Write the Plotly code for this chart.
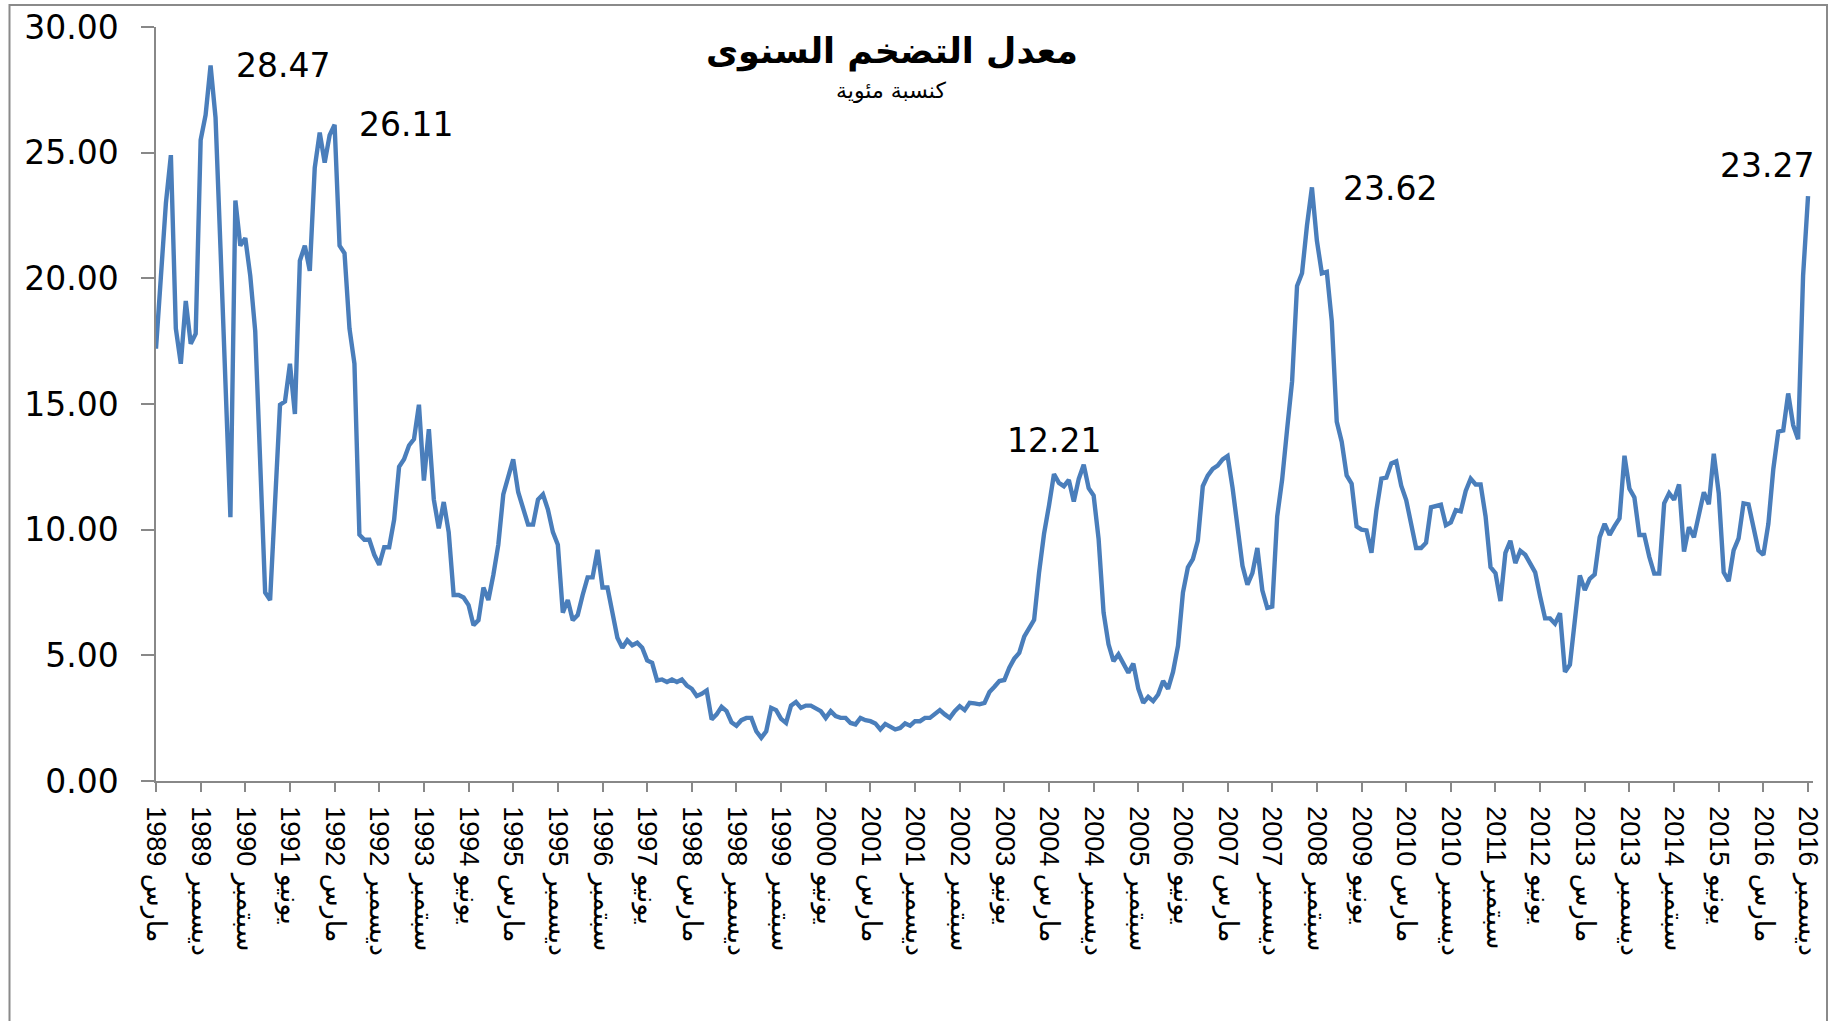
import plotly.graph_objects as go

# ---------------- data ----------------
start_year, start_month = 1989, 3

inflation = [
    # 1989 Mar-Dec
    17.2, 20.3, 23.0, 24.9, 18.0, 16.6, 19.1, 17.4, 17.8, 25.5,
    # 1990
    26.5, 28.47, 26.4, 21.2, 16.0, 10.5, 23.1, 21.3, 21.6, 20.1, 17.9, 12.7,
    # 1991
    7.5, 7.2, 11.2, 14.97, 15.1, 16.6, 14.6, 20.7, 21.3, 20.3, 24.4, 25.8,
    # 1992
    24.6, 25.7, 26.11, 21.3, 21.0, 18.0, 16.6, 9.8, 9.6, 9.6, 9.0, 8.6,
    # 1993
    9.3, 9.3, 10.4, 12.5, 12.8, 13.35, 13.6, 14.97, 11.95, 14.0, 11.2, 10.05,
    # 1994
    11.1, 9.9, 7.4, 7.4, 7.3, 7.0, 6.2, 6.4, 7.7, 7.2, 8.2, 9.4,
    # 1995
    11.4, 12.1, 12.8, 11.5, 10.8, 10.2, 10.2, 11.2, 11.4, 10.8, 9.9, 9.4,
    # 1996
    6.7, 7.2, 6.4, 6.6, 7.4, 8.1, 8.1, 9.2, 7.7, 7.7, 6.7, 5.7,
    # 1997
    5.3, 5.6, 5.4, 5.5, 5.3, 4.8, 4.7, 4.0, 4.04, 3.94, 4.04, 3.94,
    # 1998
    4.04, 3.8, 3.67, 3.38, 3.47, 3.6, 2.45, 2.65, 2.95, 2.78, 2.34, 2.2,
    # 1999
    2.42, 2.51, 2.51, 1.98, 1.72, 1.98, 2.91, 2.82, 2.47, 2.31, 3.0, 3.14,
    # 2000
    2.91, 3.0, 3.0, 2.87, 2.78, 2.51, 2.78, 2.58, 2.51, 2.51, 2.31, 2.25,
    # 2001
    2.51, 2.42, 2.38, 2.29, 2.05, 2.27, 2.18, 2.05, 2.11, 2.29, 2.2, 2.38,
    # 2002
    2.38, 2.51, 2.51, 2.69, 2.82, 2.65, 2.51, 2.78, 2.98, 2.82, 3.11, 3.09,
    # 2003
    3.05, 3.11, 3.54, 3.75, 3.98, 4.02, 4.51, 4.87, 5.1, 5.74, 6.06, 6.41,
    # 2004
    8.3, 9.83, 10.96, 12.21, 11.86, 11.73, 11.98, 11.12, 12.02, 12.58, 11.65, 11.36,
    # 2005
    9.63, 6.7, 5.44, 4.77, 5.04, 4.71, 4.31, 4.67, 3.67, 3.11, 3.35, 3.18,
    # 2006
    3.44, 3.98, 3.67, 4.34, 5.37, 7.5, 8.5, 8.83, 9.56, 11.73, 12.15, 12.42,
    # 2007
    12.55, 12.8, 12.93, 11.67, 10.05, 8.56, 7.81, 8.27, 9.27, 7.59, 6.89, 6.94,
    # 2008
    10.53, 12.0, 14.0, 15.9, 19.7, 20.2, 22.1, 23.62, 21.5, 20.2, 20.26, 18.3,
    # 2009
    14.3, 13.5, 12.16, 11.83, 10.13, 10.0, 9.97, 9.08, 10.78, 12.03, 12.07, 12.64,
    # 2010
    12.72, 11.75, 11.18, 10.21, 9.27, 9.27, 9.48, 10.89, 10.94, 10.99, 10.18, 10.29,
    # 2011
    10.78, 10.73, 11.54, 12.03, 11.8, 11.8, 10.53, 8.51, 8.27, 7.16, 9.08, 9.56,
    # 2012
    8.67, 9.16, 9.0, 8.65, 8.3, 7.34, 6.47, 6.47, 6.26, 6.68, 4.34, 4.63,
    # 2013
    6.29, 8.18, 7.6, 8.04, 8.22, 9.7, 10.23, 9.79, 10.14, 10.45, 12.94, 11.63,
    # 2014
    11.28, 9.79, 9.79, 8.92, 8.25, 8.25, 11.05, 11.45, 11.19, 11.8, 9.13, 10.1,
    # 2015
    9.7, 10.58, 11.49, 11.01, 13.02, 11.45, 8.3, 7.95, 9.18, 9.65, 11.05, 11.01,
    # 2016
    10.05, 9.18, 9.0, 10.23, 12.41, 13.9, 13.95, 15.42, 14.16, 13.6, 20.1, 23.27,
]

month_names_ar = {3: "مارس", 6: "يونيو", 9: "سبتمبر", 12: "ديسمبر"}

# category labels, one per month
months = []
y_, m_ = start_year, start_month
for _ in inflation:
    months.append(f"{y_}-{m_:02d}")
    m_ += 1
    if m_ > 12:
        m_ = 1
        y_ += 1

tick_step = 9
tick_vals = months[::tick_step]
tick_text = [f"{s[:4]} {month_names_ar[int(s[5:])]}" for s in tick_vals]

y_ticks = [0, 5, 10, 15, 20, 25, 30]

# labelled points
labelled = ["1990-02", "1992-03", "2004-04", "2008-08", "2016-12"]

title_text = "معدل التضخم السنوى"
subtitle_text = "كنسبة مئوية"

# ---------------- layout geometry ----------------
W, H = 1834, 1021
ML, MR, MT, MB = 156, 21, 27, 240
PW = W - ML - MR
PH = H - MT - MB


def px(x):
    return (x - ML) / PW


def py(y):
    return (H - MB - y) / PH


NUM_FONT = "DejaVu Sans, Liberation Sans, sans-serif"
AXIS_GRAY = "#888888"

fig = go.Figure()
fig.add_trace(go.Scatter(
    x=months, y=inflation, mode="lines",
    line=dict(color="#4A7EBB", width=4.4),
    hoverinfo="x+y", showlegend=False,
))

# data labels
label_style = {
    "1990-02": dict(xanchor="left", yanchor="middle", xshift=23, yshift=0),
    "1992-03": dict(xanchor="left", yanchor="middle", xshift=22, yshift=0),
    "2004-04": dict(xanchor="center", yanchor="middle", xshift=0, yshift=34),
    "2008-08": dict(xanchor="left", yanchor="middle", xshift=29, yshift=-1),
    "2016-12": dict(xanchor="right", yanchor="middle", xshift=8, yshift=31),
}
for mth in labelled:
    v = inflation[months.index(mth)]
    fig.add_annotation(
        x=mth, y=v, xref="x", yref="y", text=f"{v:.2f}", showarrow=False,
        font=dict(family=NUM_FONT, size=33, color="#000000"),
        **label_style[mth],
    )

# title & subtitle
fig.add_annotation(
    x=px(892), y=py(51), xref="paper", yref="paper",
    text=f"<b>{title_text}</b>", showarrow=False,
    xanchor="center", yanchor="middle",
    font=dict(family="DejaVu Sans, sans-serif", size=35, color="#000000"),
)
fig.add_annotation(
    x=px(891), y=py(90), xref="paper", yref="paper",
    text=subtitle_text, showarrow=False,
    xanchor="center", yanchor="middle",
    font=dict(family="DejaVu Sans, sans-serif", size=22, color="#000000"),
)

# outer chart frame
fig.add_shape(
    type="rect", xref="paper", yref="paper",
    x0=px(9.5), x1=px(1827), y0=py(1060), y1=py(5),
    line=dict(color="#8a8a8a", width=2), fillcolor="rgba(0,0,0,0)",
    layer="above",
)

fig.update_layout(
    width=W, height=H,
    margin=dict(l=ML, r=MR, t=MT, b=MB, pad=0, autoexpand=False),
    paper_bgcolor="white", plot_bgcolor="white",
    showlegend=False,
)

fig.update_xaxes(
    type="category", range=[0, len(months)], automargin=False,
    tickmode="array", tickvals=tick_vals, ticktext=tick_text,
    tickangle=90, ticks="outside", ticklen=9, tickwidth=1.5, tickcolor=AXIS_GRAY,
    showline=True, linecolor=AXIS_GRAY, linewidth=1.5,
    showgrid=False, zeroline=False,
    tickfont=dict(family="Liberation Sans, DejaVu Sans, sans-serif", size=27, color="#000000"),
    ticklabelstandoff=9,
)
fig.update_yaxes(
    range=[0, 30], tickmode="array", tickvals=y_ticks, tickformat=".2f", automargin=False,
    ticks="outside", ticklen=13, tickwidth=1.5, tickcolor=AXIS_GRAY,
    showline=True, linecolor=AXIS_GRAY, linewidth=1.5,
    showgrid=False, zeroline=False,
    tickfont=dict(family=NUM_FONT, size=33, color="#000000"),
    ticklabelstandoff=16,
)

fig.write_html(
    "out.html",
    config={"displayModeBar": False},
    post_script="document.body.style.margin='0';",
)
